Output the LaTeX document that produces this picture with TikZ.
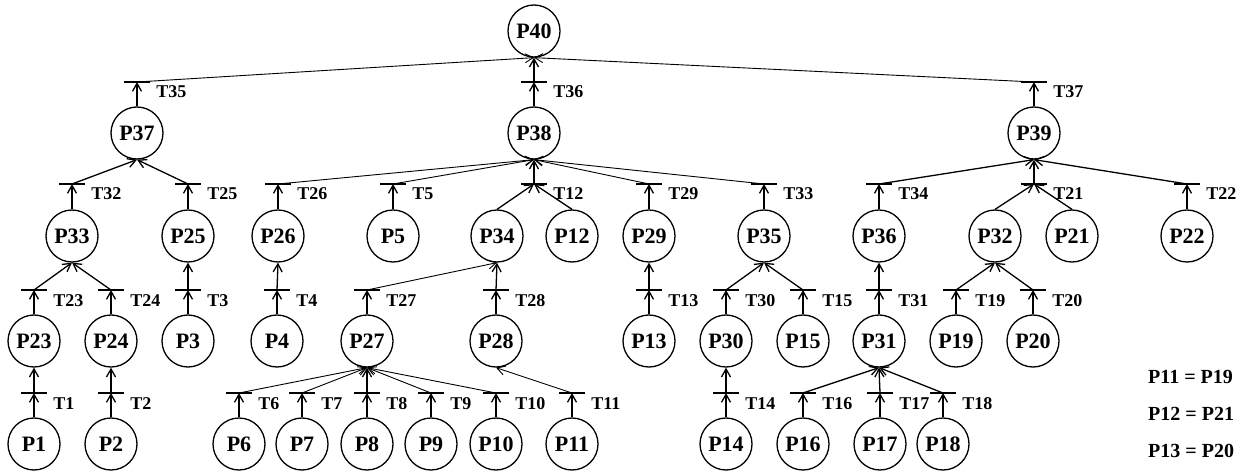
\documentclass[tikz,border=0pt]{standalone}
\usepackage{fontspec}
\setmainfont{Liberation Serif}
\usetikzlibrary{arrows.meta}
\begin{document}
\begin{tikzpicture}[x=1pt,y=-1pt,
  place/.style={circle,draw,line width=1.3pt,minimum size=52pt,inner sep=0pt,
    font=\fontsize{22}{22}\selectfont\bfseries},
  tlabel/.style={anchor=base west,inner sep=0pt,xshift=6pt,yshift=-16pt,
    font=\fontsize{18}{18}\selectfont\bfseries},
  tbar/.style={fill,minimum width=26pt,minimum height=1.5pt,inner sep=0pt,
    label={[tlabel]east:#1}},
  arr/.style={-{Straight Barb[length=8pt,width=9pt]},line width=1.3pt},
  thinarr/.style={arr,line width=0.9pt},
  legend/.style={anchor=west,inner sep=0pt,font=\fontsize{20}{20}\selectfont\bfseries}
]
\useasboundingbox (0,0) rectangle (1245,473);

% places
\foreach \n/\x/\y in {
  P40/534/31,
  P37/137/133, P38/534/133, P39/1034/133,
  P33/72/236, P25/188/236, P26/278/236, P5/393/236, P34/497/236, P12/572/236,
  P29/649/236, P35/764/236, P36/879/236, P32/995/236, P21/1072/236, P22/1187/236,
  P23/34/341, P24/111/341, P3/188/341, P4/277/341, P27/367/341, P28/496/341,
  P13/649/341, P30/726/341, P15/803/341, P31/879/341, P19/956/341, P20/1033/341,
  P1/34/444, P2/111/444, P6/239/444, P7/302/444, P8/367/444, P9/431/444,
  P10/496/444, P11/572/444, P14/726/444, P16/803/444, P17/880/444, P18/943/444}
  \node[place] (\n) at (\x,\y) {\n};

% transitions
\foreach \n/\x/\y in {
  T35/137/82, T36/534/82, T37/1034/82,
  T32/72/184, T25/188/184, T26/278/184, T5/393/184, T12/534/184, T29/649/184,
  T33/764/184, T34/879/184, T21/1034/184, T22/1187/184,
  T23/34/290, T24/111/290, T3/188/290, T4/277/290, T27/367/290, T28/496/290,
  T13/649/290, T30/726/290, T15/803/290, T31/879/290, T19/956/290, T20/1033/290,
  T1/34/393, T2/111/393, T6/239/393, T7/302/393, T8/367/393, T9/431/393,
  T10/496/393, T11/572/393, T14/726/393, T16/803/393, T17/880/393, T18/943/393}
  \node[tbar=\n] (\n) at (\x,\y) {};

% place -> transition
\foreach \p/\t in {
  P37/T35, P38/T36, P39/T37,
  P33/T32, P25/T25, P26/T26, P5/T5, P34/T12, P12/T12, P29/T29, P35/T33,
  P36/T34, P32/T21, P21/T21, P22/T22,
  P23/T23, P24/T24, P3/T3, P4/T4, P27/T27, P28/T28, P13/T13, P30/T30,
  P15/T15, P31/T31, P19/T19, P20/T20,
  P1/T1, P2/T2, P6/T6, P7/T7, P8/T8, P9/T9, P10/T10, P11/T11, P14/T14,
  P16/T16, P17/T17, P18/T18}
  \draw[arr] (\p.north) -- (\t.center);

% transition -> place
\foreach \t/\p in {
  T36/P40,
  T32/P37, T25/P37, T12/P38, T34/P39, T21/P39, T22/P39,
  T23/P33, T24/P33, T3/P25, T4/P26, T28/P34, T13/P29, T30/P35, T15/P35,
  T31/P36, T19/P32, T20/P32,
  T1/P23, T2/P24, T8/P27, T14/P30, T16/P31, T17/P31, T18/P31}
  \draw[arr] (\t.center) -- (\p.south);
\foreach \t/\p in {
  T35/P40, T37/P40, T26/P38, T5/P38, T29/P38, T33/P38, T27/P34,
  T6/P27, T7/P27, T9/P27, T10/P27, T11/P28}
  \draw[thinarr] (\t.center) -- (\p.south);

% identified places
\node[legend] (eq1) at (1148,377) {P11 = P19};
\node[legend] (eq2) at (1148,414) {P12 = P21};
\node[legend] (eq3) at (1148,451) {P13 = P20};
\end{tikzpicture}
\end{document}
